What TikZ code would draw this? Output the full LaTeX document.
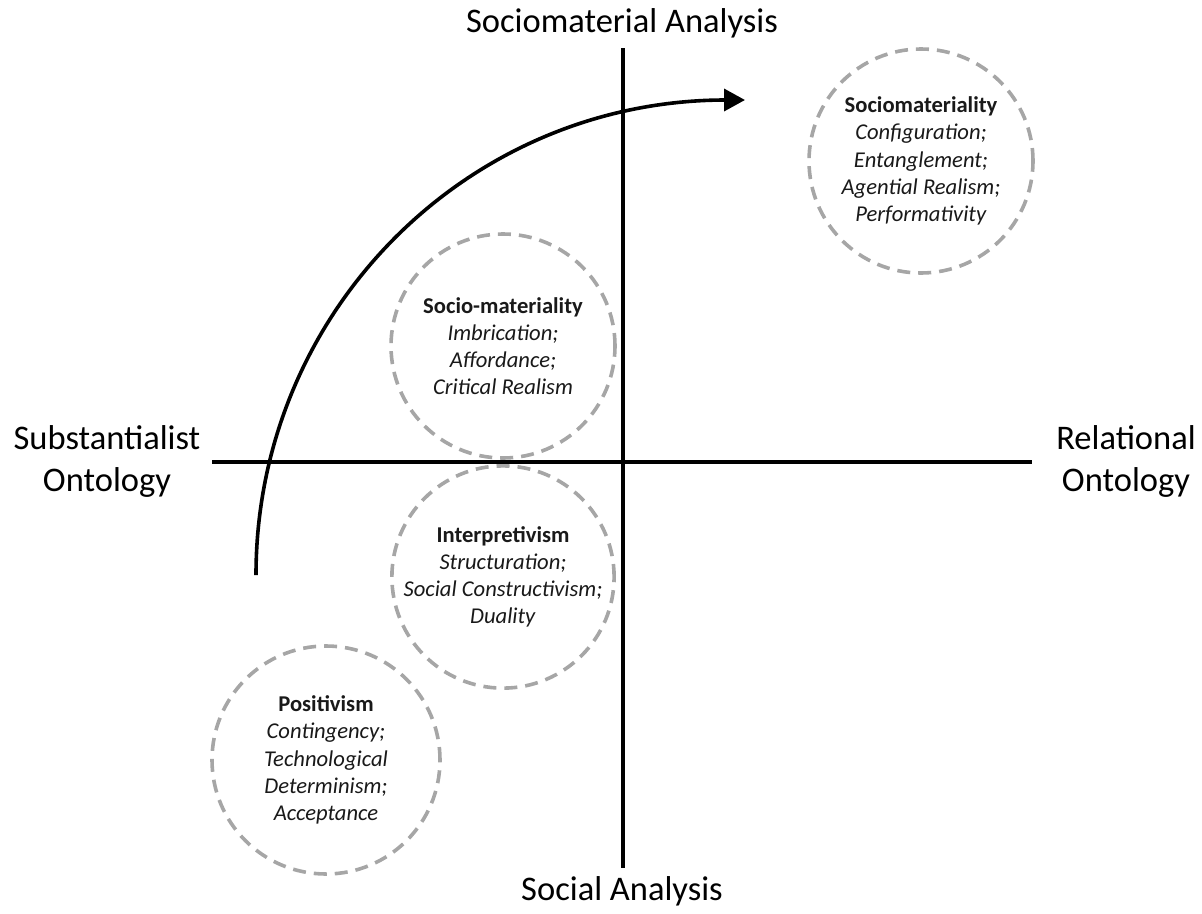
\documentclass[tikz,border=0pt]{standalone}
\usepackage{fontspec}
\setmainfont{Carlito}
\usetikzlibrary{arrows.meta}
\begin{document}
\begin{tikzpicture}[x=1pt,y=-1pt,
  axisline/.style={line width=3.2pt, draw=black},
  zone/.style={circle, draw=black!35, line width=3.6pt, dash pattern=on 13pt off 8pt,
    minimum size=#1, inner sep=0pt, align=center, text=black!90,
    font=\fontsize{22.6}{27.2}\selectfont},
  heading/.style={align=center, font=\fontsize{34.5}{42}\selectfont, inner sep=0pt},
  flow/.style={line width=3.6pt, -{Triangle[length=21pt, width=22pt]}}
]
\useasboundingbox (0,0) rectangle (1202,913);
% axes
\coordinate (vtop) at (623,48);
\coordinate (vbot) at (623,868);
\coordinate (hleft) at (212,462);
\coordinate (hright) at (1032,462);
\draw[axisline] (vtop) -- (vbot);
\draw[axisline] (hleft) -- (hright);
% axis labels
\node[heading] (top) at (622,23) {Sociomaterial Analysis};
\node[heading] (bottom) at (622,891) {Social Analysis};
\node[heading] (left) at (107,461) {Substantialist\\Ontology};
\node[heading] (right) at (1126,461) {Relational\\Ontology};
% zones
\node[zone=224pt] (smat) at (921,161) {\textbf{Sociomateriality}\\\textit{Configuration;}\\\textit{Entanglement;}\\\textit{Agential Realism;}\\\textit{Performativity}};
\node[zone=224pt] (sm) at (503,346) {\textbf{Socio-materiality}\\\textit{Imbrication;}\\\textit{Affordance;}\\\textit{Critical Realism}};
\node[zone=222pt] (interp) at (503,577) {\textbf{Interpretivism}\\\textit{Structuration;}\\\textit{Social Constructivism;}\\\textit{Duality}};
\node[zone=228pt] (pos) at (326,760) {\textbf{Positivism}\\\textit{Contingency;}\\\textit{Technological}\\\textit{Determinism;}\\\textit{Acceptance}};
% curved arrow
\coordinate (arcstart) at (256,575);
\coordinate (arcend) at (745,100);
\draw[flow] (arcstart) arc[start angle=180, end angle=270, x radius=470, y radius=475] -- (arcend);
\end{tikzpicture}
\end{document}
